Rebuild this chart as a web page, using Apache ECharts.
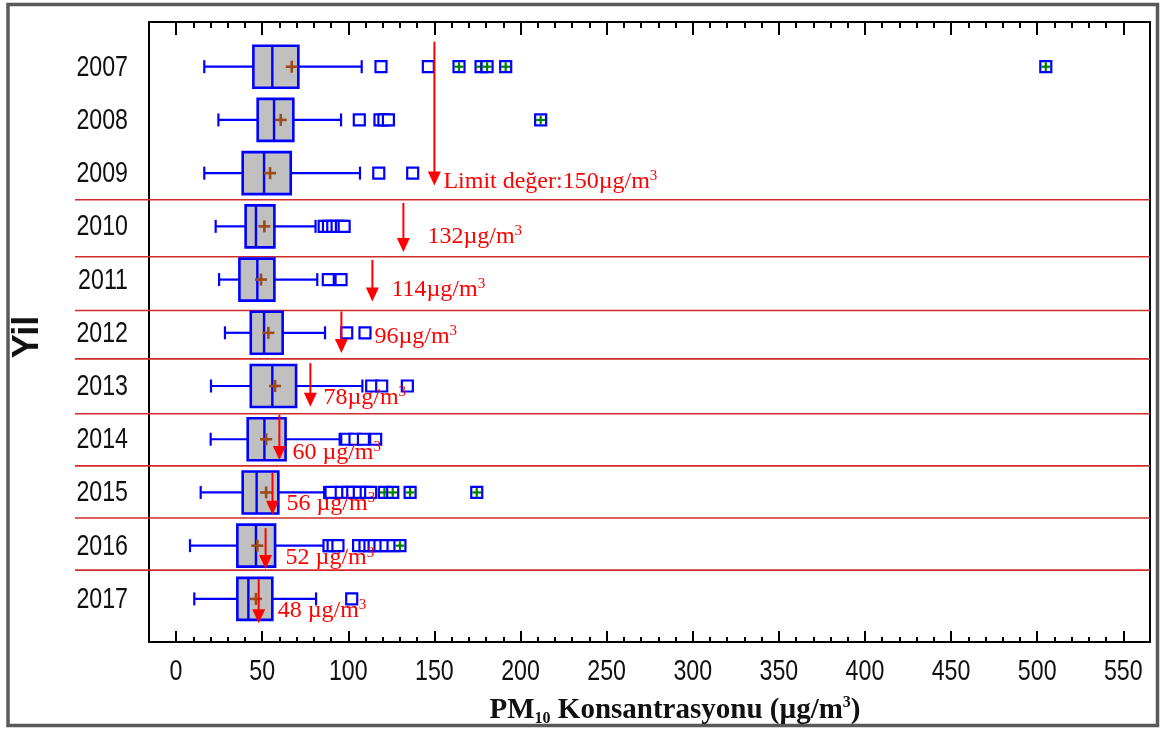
<!DOCTYPE html>
<html>
<head>
<meta charset="utf-8">
<script src="https://cdn.jsdelivr.net/npm/echarts@6/dist/echarts.min.js"></script>
<style>
  html, body { margin: 0; padding: 0; background: #fff; }
  #chart { width: 1161px; height: 731px; }
</style>
</head>
<body>
<div id="chart"></div>
<script>
// Yearly PM10 box statistics (µg/m³)
const years       = [2007, 2008, 2009, 2010, 2011, 2012, 2013, 2014, 2015, 2016, 2017];
const whiskerLow  = [16.4, 24.6, 16.4, 23.0, 25.0, 28.4, 20.3, 20.1, 14.3, 8.1, 10.6];
const quartile1   = [44.9, 47.4, 38.7, 40.4, 36.8, 43.4, 43.4, 41.6, 38.7, 35.6, 35.6];
const medians     = [55.9, 56.9, 51.1, 46.4, 47.2, 51.1, 55.9, 51.3, 46.8, 46.4, 42.0];
const quartile3   = [71.0, 68.1, 66.6, 57.1, 57.1, 61.9, 69.7, 63.6, 59.4, 57.5, 55.9];
const whiskerHigh = [107.8, 95.8, 106.8, 81.0, 82.0, 86.5, 108.2, 95.0, 86.0, 86.0, 81.3];
const means       = [67.2, 60.8, 54.6, 51.3, 49.3, 53.6, 57.5, 52.3, 52.3, 47.2, 46.4];

// Outliers (open squares) and extreme outliers (squares with a cross)
const mildOutliers = [
  [119, 146.5],
  [106.4, 118.4, 120.7, 123.3],
  [117.7, 137.4],
  [86, 88.5, 91, 93.5, 96, 97.6],
  [88.4, 95.8],
  [99.1, 109.7],
  [113.6, 119.4, 134.3],
  [99.1, 103.9, 108.8, 115.9],
  [90, 95.9, 99.7, 102.6, 106.4, 110.4, 113],
  [88.8, 91.2, 94, 106, 109.7, 112.6, 115, 118.4, 121.9, 126],
  [102]
];
const extremeOutliers = [
  [164.3, 177.1, 180.6, 191.4, 505],
  [211.7],
  [], [], [], [], [], [],
  [121, 125.8, 135.9, 174.6],
  [130],
  []
];

// Annual limit values and the span of years each arrow covers
const limitValues    = [150, 132, 114, 96, 78, 60, 56, 52, 48];
const limitArrowTop  = [2006.53, 2009.56, 2010.63, 2011.60, 2012.57, 2013.54, 2014.63, 2015.67, 2016.63];
const limitArrowTip  = [2009.23, 2010.48, 2011.41, 2012.38, 2013.39, 2014.39, 2015.42, 2016.44, 2017.46];
const yearSeparators = [2009.50, 2010.57, 2011.58, 2012.49, 2013.52, 2014.50, 2015.48, 2016.46];

// Axis ticks
const xMajorTicks = [0, 50, 100, 150, 200, 250, 300, 350, 400, 450, 500, 550];
const xMinorTicks = [];
for (let v = 10; v < 550; v += 10) if (v % 50 !== 0) xMinorTicks.push(v);

// Label placement beside each arrow head (px)
const limitLabelNudge = [[9, -4], [24, -15], [19, -12], [33, -16], [13, -9], [13, -7], [14, -11], [20, -11], [19, -13]];

const BLUE = '#0000ff';
const RED = '#ff0000';
const SANS = "'Liberation Sans', Arial, sans-serif";
const SERIF = "'Liberation Serif', 'Times New Roman', serif";
const TICK_FONT = 29, TICK_SQUEEZE = 0.8;

const X_MIN = -15.7, X_MAX = 565.5;
const Y_MIN = 2006.16, Y_MAX = 2017.81;

const boxData = years.map((y, i) => [y, whiskerLow[i], quartile1[i], medians[i], quartile3[i], whiskerHigh[i], means[i]]);

const outlierData = [];
years.forEach((y, i) => {
  const pts = mildOutliers[i].map(v => [v, y, 0]).concat(extremeOutliers[i].map(v => [v, y, 1]));
  pts.sort((a, b) => a[0] - b[0]);
  pts.forEach(p => outlierData.push(p));
});

const arrowData = limitValues.map((v, i) => [v, limitArrowTop[i], limitArrowTip[i], i]);

function limitText(i) {
  const v = limitValues[i];
  const prefix = i === 0 ? 'Limit değer:' : '';
  const gap = v <= 60 ? ' ' : '';
  return '{t|' + prefix + v + gap + 'µg/m}{s|3}';
}

function xAxisBase(extra) {
  return Object.assign({
    type: 'value', gridIndex: 0, min: X_MIN, max: X_MAX,
    splitLine: { show: false },
    axisLine: { show: false },
    axisTick: { show: false },
    axisLabel: { show: false }
  }, extra);
}

const chart = echarts.init(document.getElementById('chart'), null, { renderer: 'canvas' });

chart.setOption({
  animation: false,
  backgroundColor: '#ffffff',
  grid: { left: 149, right: 11, top: 22, bottom: 89, containLabel: false },
  xAxis: [
    xAxisBase({
      position: 'bottom',
      axisLine: { show: true, onZero: false, lineStyle: { color: '#000', width: 2 } },
      axisTick: { show: true, inside: true, length: 11, customValues: xMajorTicks, lineStyle: { color: '#000', width: 2 } }
    }),
    xAxisBase({
      position: 'bottom',
      axisTick: { show: true, inside: true, length: 5, customValues: xMinorTicks, lineStyle: { color: '#000', width: 2 } }
    }),
    xAxisBase({
      position: 'top',
      axisLine: { show: true, onZero: false, lineStyle: { color: '#000', width: 2 } },
      axisTick: { show: true, inside: true, length: 13, customValues: xMajorTicks, lineStyle: { color: '#000', width: 2 } }
    }),
    xAxisBase({
      position: 'top',
      axisTick: { show: true, inside: true, length: 6, customValues: xMinorTicks, lineStyle: { color: '#000', width: 2 } }
    })
  ],
  yAxis: [
    {
      type: 'value', inverse: true, min: Y_MIN, max: Y_MAX, position: 'left',
      splitLine: { show: false },
      axisLine: { show: true, onZero: false, lineStyle: { color: '#000', width: 2 } },
      axisTick: { show: false },
      axisLabel: { show: false }
    },
    {
      type: 'value', inverse: true, min: Y_MIN, max: Y_MAX, position: 'right',
      splitLine: { show: false },
      axisLine: { show: true, onZero: false, lineStyle: { color: '#000', width: 2 } },
      axisTick: { show: false },
      axisLabel: { show: false }
    }
  ],
  series: [
    {
      // red lines between the yearly rows
      type: 'custom', name: 'separators', clip: false, silent: true,
      data: yearSeparators.map(v => [0, v]),
      encode: { x: 0, y: 1 },
      renderItem(params, api) {
        const cs = params.coordSys;
        const y = api.coord([0, api.value(1)])[1];
        return {
          type: 'line',
          shape: { x1: cs.x - 74, y1: y, x2: cs.x + cs.width, y2: y },
          style: { stroke: '#d22b2b', lineWidth: 1.6 }
        };
      }
    },
    {
      // year labels along the left axis (narrow face)
      type: 'custom', name: 'yearLabels', clip: false, silent: true,
      data: years.map(y => [X_MIN, y]),
      encode: { x: 0, y: 1 },
      renderItem(params, api) {
        const p = api.coord([api.value(0), api.value(1)]);
        return {
          type: 'text', x: p[0] - 21, y: p[1] + 1, scaleX: TICK_SQUEEZE,
          style: { text: String(api.value(1)), align: 'right', verticalAlign: 'middle',
                   fontFamily: SANS, fontSize: TICK_FONT, fill: '#111' }
        };
      }
    },
    {
      // value labels under the bottom axis (narrow face)
      type: 'custom', name: 'valueLabels', clip: false, silent: true,
      data: xMajorTicks.map(v => [v, Y_MAX]),
      encode: { x: 0, y: 1 },
      renderItem(params, api) {
        const p = api.coord([api.value(0), api.value(1)]);
        return {
          type: 'text', x: p[0], y: p[1] + 30, scaleX: TICK_SQUEEZE,
          style: { text: String(api.value(0)), align: 'center', verticalAlign: 'middle',
                   fontFamily: SANS, fontSize: TICK_FONT, fill: '#111' }
        };
      }
    },
    {
      type: 'custom', name: 'boxes', clip: false,
      data: boxData,
      encode: { y: 0, x: [1, 2, 3, 4, 5, 6] },
      renderItem(params, api) {
        const yr = api.value(0);
        const pt = k => api.coord([api.value(k), yr]);
        const lo = pt(1), a = pt(2), m = pt(3), b = pt(4), hi = pt(5), mn = pt(6);
        const cy = lo[1];
        const half = 21, cap = 6.5, plus = 6;
        const wStyle = { stroke: BLUE, lineWidth: 2.2 };
        const brown = { stroke: '#9c4a1a', lineWidth: 2.6 };
        return {
          type: 'group',
          children: [
            { type: 'line', shape: { x1: lo[0], y1: cy, x2: a[0], y2: cy }, style: wStyle },
            { type: 'line', shape: { x1: b[0], y1: cy, x2: hi[0], y2: cy }, style: wStyle },
            { type: 'line', shape: { x1: lo[0], y1: cy - cap, x2: lo[0], y2: cy + cap }, style: wStyle },
            { type: 'line', shape: { x1: hi[0], y1: cy - cap, x2: hi[0], y2: cy + cap }, style: wStyle },
            { type: 'rect', shape: { x: a[0], y: cy - half, width: b[0] - a[0], height: 2 * half },
              style: { fill: '#c0c0c0', stroke: BLUE, lineWidth: 2.6 } },
            { type: 'line', shape: { x1: m[0], y1: cy - half, x2: m[0], y2: cy + half }, style: { stroke: BLUE, lineWidth: 2.4 } },
            { type: 'line', shape: { x1: mn[0] - plus, y1: cy, x2: mn[0] + plus, y2: cy }, style: brown },
            { type: 'line', shape: { x1: mn[0], y1: cy - plus, x2: mn[0], y2: cy + plus }, style: brown }
          ]
        };
      }
    },
    {
      type: 'custom', name: 'outliers', clip: false,
      data: outlierData,
      encode: { x: 0, y: 1 },
      renderItem(params, api) {
        const p = api.coord([api.value(0), api.value(1)]);
        const s = 5.5;
        const kids = [
          { type: 'rect', shape: { x: p[0] - s, y: p[1] - s, width: 2 * s, height: 2 * s },
            style: { fill: '#ffffff', stroke: BLUE, lineWidth: 2.2 } }
        ];
        if (api.value(2) === 1) {
          const g = { stroke: '#008000', lineWidth: 2.2 };
          kids.push({ type: 'line', shape: { x1: p[0] - s + 1, y1: p[1], x2: p[0] + s - 1, y2: p[1] }, style: g });
          kids.push({ type: 'line', shape: { x1: p[0], y1: p[1] - s + 1, x2: p[0], y2: p[1] + s - 1 }, style: g });
        }
        return { type: 'group', children: kids };
      }
    },
    {
      type: 'custom', name: 'limits', clip: false,
      data: arrowData,
      encode: { x: 0, y: [1, 2] },
      renderItem(params, api) {
        const v = api.value(0);
        const i = api.value(3);
        const top = api.coord([v, api.value(1)]);
        const tip = api.coord([v, api.value(2)]);
        const headLen = 14, headHalf = 6.5;
        const nudge = limitLabelNudge[i];
        return {
          type: 'group',
          children: [
            { type: 'line', shape: { x1: top[0], y1: top[1], x2: tip[0], y2: tip[1] - headLen + 1 },
              style: { stroke: RED, lineWidth: 2 } },
            { type: 'polygon', shape: { points: [[tip[0] - headHalf, tip[1] - headLen], [tip[0] + headHalf, tip[1] - headLen], [tip[0], tip[1]]] },
              style: { fill: RED } },
            { type: 'text', x: tip[0] + nudge[0], y: tip[1] + nudge[1],
              style: {
                text: limitText(i),
                align: 'left', verticalAlign: 'middle',
                rich: {
                  t: { fontFamily: SERIF, fontSize: 24, fill: RED, lineHeight: 26, verticalAlign: 'middle' },
                  s: { fontFamily: SERIF, fontSize: 15, fill: RED, lineHeight: 15, verticalAlign: 'top' }
                }
              } }
          ]
        };
      }
    }
  ],
  graphic: [
    {
      type: 'rect', silent: true,
      shape: { x: 8, y: 4.5, width: 1149.5, height: 721 },
      style: { fill: 'none', stroke: '#595959', lineWidth: 3.5 }
    },
    {
      type: 'text', silent: true,
      x: 28, y: 337, rotation: Math.PI / 2,
      style: {
        text: 'Yil', align: 'center', verticalAlign: 'middle',
        fontFamily: SANS, fontWeight: 'bold', fontSize: 36, fill: '#111'
      }
    },
    {
      type: 'text', silent: true,
      x: 675, y: 711,
      style: {
        text: '{b|PM}{sub|10}{b| Konsantrasyonu (µg/m}{sup|3}{b|)}',
        align: 'center', verticalAlign: 'middle',
        rich: {
          b: { fontFamily: SERIF, fontWeight: 'bold', fontSize: 29, fill: '#111', lineHeight: 32, verticalAlign: 'middle' },
          sub: { fontFamily: SERIF, fontWeight: 'bold', fontSize: 16, fill: '#111', lineHeight: 16, verticalAlign: 'bottom' },
          sup: { fontFamily: SERIF, fontWeight: 'bold', fontSize: 16, fill: '#111', lineHeight: 16, verticalAlign: 'top' }
        }
      }
    }
  ]
});
</script>
</body>
</html>
